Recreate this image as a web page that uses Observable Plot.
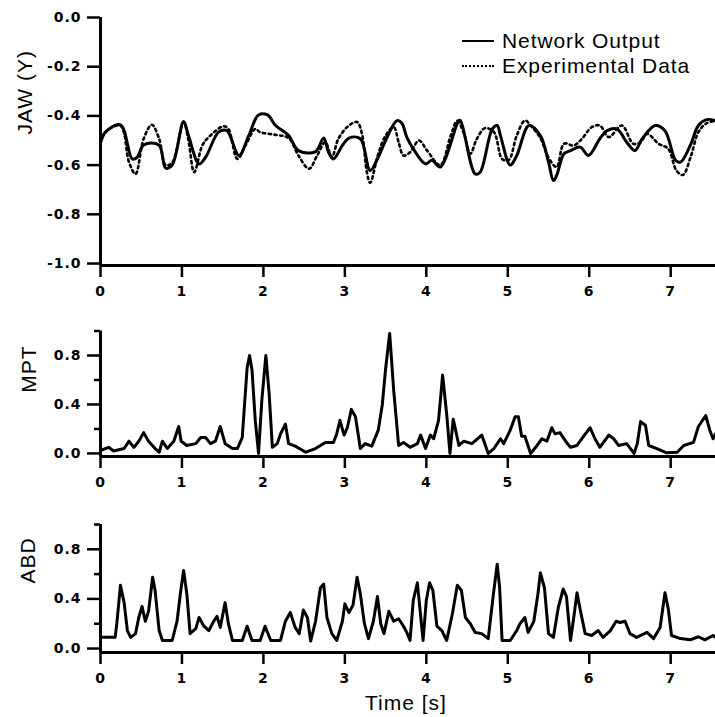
<!DOCTYPE html>
<html>
<head>
<meta charset="utf-8">
<script src="https://cdn.jsdelivr.net/npm/d3@7"></script>
<script src="https://cdn.jsdelivr.net/npm/@observablehq/plot@0.6"></script>
<style>
  body { margin: 0; background: #fff; }
  #wrap { position: relative; width: 715px; height: 717px; overflow: hidden; background: #fff; }
  #wrap > svg { position: absolute; left: 0; }
  .leg { position: absolute; font-family: 'Liberation Sans', Arial, sans-serif; font-size: 21px; letter-spacing: 0.9px; color: #000; white-space: nowrap; }
  .leg .row { position: absolute; left: 0; height: 24px; }
  .leg .sw { position: absolute; left: 0; width: 32px; top: 11px; }
  .leg .txt { position: absolute; left: 40px; top: 0; line-height: 24px; }
</style>
</head>
<body>
<div id="wrap"></div>
<script>
// ---------- data ----------
const timeTicks = [0, 1, 2, 3, 4, 5, 6, 7];
const jawTicks = [0, -0.2, -0.4, -0.6, -0.8, -1.0];
const actTicks = [0, 0.4, 0.8];
const actMinorTicks = [0.2, 0.6, 1.0];
const seriesNames = ["Network Output", "Experimental Data"];
const panelLabels = ["JAW (Y)", "MPT", "ABD"];
const xTitle = "Time [s]";

// JAW (Y): network output [time s, value]
const jawNetwork = [
  [0,-0.51],[0.06,-0.466],[0.245,-0.436],[0.39,-0.575],[0.45,-0.568],[0.53,-0.518],[0.716,-0.518],
  [0.80,-0.612],[0.88,-0.60],[1.02,-0.423],[1.08,-0.48],[1.21,-0.595],[1.29,-0.568],[1.45,-0.466],
  [1.55,-0.46],[1.70,-0.561],[1.82,-0.48],[1.94,-0.396],[2.05,-0.396],[2.15,-0.439],[2.31,-0.48],
  [2.43,-0.541],[2.64,-0.545],[2.74,-0.49],[2.80,-0.548],[2.86,-0.575],[2.97,-0.52],[3.05,-0.49],
  [3.19,-0.493],[3.31,-0.622],[3.41,-0.568],[3.50,-0.50],[3.64,-0.419],[3.70,-0.43],[3.76,-0.486],
  [3.84,-0.534],[3.99,-0.595],[4.07,-0.58],[4.17,-0.608],[4.40,-0.419],[4.42,-0.419],[4.60,-0.636],
  [4.66,-0.629],[4.81,-0.453],[4.87,-0.439],[4.91,-0.48],[5.03,-0.60],[5.11,-0.561],[5.26,-0.439],
  [5.40,-0.48],[5.50,-0.588],[5.56,-0.663],[5.60,-0.642],[5.69,-0.554],[5.77,-0.541],[5.89,-0.527],
  [5.99,-0.561],[6.13,-0.493],[6.22,-0.46],[6.34,-0.453],[6.46,-0.507],[6.56,-0.541],[6.65,-0.493],
  [6.81,-0.439],[6.93,-0.46],[7.06,-0.58],[7.12,-0.588],[7.24,-0.52],[7.34,-0.439],[7.44,-0.415],[7.55,-0.419]
];
// JAW (Y): experimental data [time s, value]
const jawExperimental = [
  [0,-0.51],[0.06,-0.466],[0.245,-0.44],[0.35,-0.588],[0.43,-0.636],[0.53,-0.493],[0.63,-0.436],
  [0.72,-0.493],[0.80,-0.60],[0.88,-0.59],[1.02,-0.425],[1.08,-0.50],[1.15,-0.629],[1.25,-0.52],
  [1.33,-0.486],[1.51,-0.442],[1.57,-0.453],[1.68,-0.575],[1.78,-0.52],[1.90,-0.453],[1.96,-0.466],
  [2.15,-0.477],[2.31,-0.49],[2.43,-0.561],[2.56,-0.615],[2.66,-0.561],[2.76,-0.507],[2.84,-0.568],
  [2.92,-0.493],[3.05,-0.439],[3.15,-0.425],[3.21,-0.473],[3.27,-0.629],[3.31,-0.672],[3.41,-0.554],
  [3.50,-0.48],[3.60,-0.446],[3.66,-0.507],[3.72,-0.561],[3.80,-0.548],[3.91,-0.50],[4.01,-0.541],
  [4.17,-0.60],[4.30,-0.48],[4.38,-0.42],[4.46,-0.47],[4.54,-0.554],[4.62,-0.493],[4.72,-0.45],
  [4.83,-0.466],[4.93,-0.575],[5.01,-0.58],[5.11,-0.48],[5.21,-0.419],[5.30,-0.446],[5.40,-0.49],
  [5.50,-0.57],[5.60,-0.608],[5.69,-0.513],[5.81,-0.52],[5.91,-0.493],[6.03,-0.446],[6.13,-0.439],
  [6.24,-0.486],[6.40,-0.439],[6.54,-0.513],[6.63,-0.507],[6.71,-0.473],[6.85,-0.513],[6.97,-0.534],
  [7.07,-0.622],[7.15,-0.64],[7.25,-0.561],[7.34,-0.466],[7.44,-0.43],[7.55,-0.42]
];
// MPT [time s, value]
const mpt = [
  [0,0.024],[0.10,0.05],[0.16,0.02],[0.29,0.04],[0.35,0.10],[0.41,0.05],[0.47,0.10],[0.53,0.17],[0.59,0.10],[0.67,0.04],
  [0.72,0.01],[0.76,0.10],[0.82,0.04],[0.90,0.10],[0.96,0.22],[0.99,0.10],[1.06,0.065],[1.17,0.08],[1.23,0.13],[1.29,0.13],
  [1.35,0.08],[1.41,0.10],[1.47,0.22],[1.53,0.08],[1.62,0.04],[1.68,0.04],[1.74,0.13],[1.80,0.70],[1.83,0.80],[1.86,0.68],
  [1.90,0.27],[1.94,0.0],[1.98,0.43],[2.03,0.80],[2.07,0.49],[2.11,0.05],[2.17,0.08],[2.21,0.16],[2.27,0.24],[2.31,0.08],
  [2.39,0.06],[2.52,0.01],[2.64,0.04],[2.76,0.09],[2.86,0.09],[2.90,0.16],[2.94,0.27],[2.99,0.15],[3.03,0.21],[3.08,0.36],
  [3.13,0.30],[3.19,0.04],[3.25,0.08],[3.33,0.06],[3.41,0.19],[3.46,0.40],[3.50,0.69],[3.55,0.98],[3.60,0.51],[3.66,0.065],
  [3.72,0.09],[3.80,0.05],[3.89,0.08],[3.93,0.15],[3.99,0.04],[4.05,0.15],[4.09,0.12],[4.15,0.27],[4.20,0.64],[4.25,0.32],
  [4.29,0.0],[4.33,0.28],[4.40,0.065],[4.46,0.10],[4.56,0.08],[4.68,0.15],[4.76,0.0],[4.83,0.04],[4.91,0.12],[4.95,0.08],
  [5.03,0.19],[5.09,0.30],[5.13,0.30],[5.17,0.14],[5.21,0.14],[5.28,0.0],[5.36,0.065],[5.42,0.12],[5.48,0.10],[5.54,0.21],
  [5.58,0.16],[5.64,0.17],[5.71,0.10],[5.77,0.05],[5.85,0.065],[5.93,0.14],[6.01,0.21],[6.07,0.12],[6.13,0.05],[6.24,0.15],
  [6.30,0.12],[6.36,0.065],[6.46,0.08],[6.55,0.0],[6.59,0.08],[6.63,0.26],[6.69,0.23],[6.73,0.065],[6.83,0.04],[6.95,0.005],
  [7.08,0.01],[7.16,0.065],[7.28,0.09],[7.34,0.22],[7.43,0.31],[7.48,0.19],[7.52,0.12],[7.55,0.16]
];
// ABD [time s, value]
const abd = [
  [0,0.09],[0.18,0.09],[0.20,0.20],[0.245,0.51],[0.29,0.37],[0.33,0.145],[0.37,0.09],[0.43,0.12],[0.47,0.25],[0.51,0.34],
  [0.55,0.22],[0.59,0.30],[0.64,0.575],[0.67,0.47],[0.72,0.145],[0.76,0.065],[0.88,0.065],[0.94,0.22],[0.98,0.44],[1.02,0.63],
  [1.06,0.44],[1.10,0.12],[1.17,0.16],[1.21,0.25],[1.27,0.18],[1.33,0.145],[1.39,0.22],[1.43,0.26],[1.47,0.17],[1.53,0.37],
  [1.57,0.20],[1.62,0.065],[1.74,0.065],[1.80,0.18],[1.86,0.065],[1.96,0.065],[2.02,0.18],[2.09,0.065],[2.21,0.065],[2.27,0.22],
  [2.33,0.29],[2.39,0.17],[2.44,0.12],[2.49,0.31],[2.54,0.25],[2.58,0.06],[2.64,0.22],[2.70,0.49],[2.74,0.52],[2.78,0.25],
  [2.84,0.12],[2.90,0.065],[2.97,0.22],[3.00,0.36],[3.05,0.29],[3.10,0.35],[3.15,0.575],[3.19,0.44],[3.24,0.20],[3.29,0.08],
  [3.35,0.22],[3.40,0.42],[3.44,0.20],[3.48,0.12],[3.54,0.30],[3.60,0.22],[3.66,0.24],[3.72,0.18],[3.76,0.13],[3.80,0.065],
  [3.84,0.39],[3.89,0.53],[3.92,0.33],[3.96,0.065],[4.00,0.39],[4.04,0.53],[4.08,0.47],[4.13,0.18],[4.19,0.145],[4.25,0.065],
  [4.32,0.28],[4.38,0.51],[4.43,0.47],[4.48,0.25],[4.54,0.20],[4.60,0.13],[4.68,0.12],[4.76,0.08],[4.82,0.42],[4.87,0.68],
  [4.90,0.49],[4.93,0.065],[5.03,0.065],[5.11,0.145],[5.15,0.20],[5.21,0.25],[5.25,0.13],[5.32,0.22],[5.37,0.44],[5.40,0.61],
  [5.45,0.49],[5.50,0.12],[5.56,0.09],[5.62,0.33],[5.68,0.48],[5.72,0.42],[5.77,0.065],[5.81,0.25],[5.85,0.45],[5.89,0.31],
  [5.95,0.12],[6.03,0.105],[6.11,0.145],[6.17,0.09],[6.26,0.145],[6.33,0.22],[6.38,0.21],[6.44,0.22],[6.50,0.12],[6.58,0.09],
  [6.71,0.13],[6.79,0.08],[6.87,0.17],[6.93,0.45],[6.97,0.32],[7.01,0.105],[7.12,0.08],[7.24,0.07],[7.34,0.095],[7.42,0.07],
  [7.52,0.105],[7.55,0.09]
];

// ---------- drawing ----------
const W = 715;
const xDomain = [0, 7.55];
const tickFont = "'DejaVu Sans', sans-serif";
const labelFont = "'Liberation Sans', Arial, sans-serif";
const toObj = arr => arr.map(([t, v]) => ({t, v}));
const wrap = document.getElementById("wrap");

function axesFor(yDom, yTop, major, minor, fmt) {
  const m = [
    Plot.axisX(timeTicks, {anchor: "bottom", tickSize: 12, tickPadding: 9, strokeWidth: 2.5,
      tickFormat: d => String(d), label: null, fontSize: 14, fontWeight: "bold", fontFamily: tickFont}),
    Plot.axisY(major, {anchor: "left", tickSize: 13, tickPadding: 6, strokeWidth: 2.5,
      tickFormat: fmt, label: null, fontSize: 14, fontWeight: "bold", fontFamily: tickFont}),
    Plot.ruleX([{x: 0, y1: yDom[0], y2: yTop}], {x: "x", y1: "y1", y2: "y2", strokeWidth: 3}),
    Plot.ruleY([yDom[0]], {strokeWidth: 3})
  ];
  if (minor) m.push(Plot.axisY(minor, {anchor: "left", tickSize: 6, strokeWidth: 2.5, tickFormat: () => "", label: null}));
  return m;
}

function yTitle(label, dx, dy) {
  return Plot.text([label], {text: d => d, frameAnchor: "left", rotate: -90, dx, dy,
    lineAnchor: "middle", fontSize: 21, fontFamily: labelFont});
}

function place(svg, top) {
  svg.style.top = top + "px";
  d3.select(svg).selectAll("text").style("letter-spacing", "1px");
  wrap.appendChild(svg);
}

// Panel 1: JAW
const jawDom = [-1.008, 0];
const p1 = Plot.plot({
  width: W, height: 305, marginLeft: 100, marginRight: 0, marginTop: 17, marginBottom: 40,
  x: {domain: xDomain, label: null}, y: {domain: jawDom, label: null},
  style: {background: "white", color: "black", overflow: "visible"},
  marks: [
    ...axesFor(jawDom, 0, jawTicks, null, d => d.toFixed(1)),
    Plot.line(toObj(jawExperimental), {x: "t", y: "v", curve: "catmull-rom", strokeWidth: 2.6, strokeDasharray: "2.4,3.4"}),
    Plot.line(toObj(jawNetwork), {x: "t", y: "v", curve: "catmull-rom", strokeWidth: 3}),
    yTitle(panelLabels[0], -75, -7)
  ]
});
place(p1, 0);

// Panel 2: MPT
const mptDom = [-0.025, 1.0];
const p2 = Plot.plot({
  width: W, height: 195, marginLeft: 100, marginRight: 0, marginTop: 25.5, marginBottom: 44,
  x: {domain: xDomain, label: null}, y: {domain: mptDom, label: null},
  style: {background: "white", color: "black", overflow: "visible"},
  marks: [
    ...axesFor(mptDom, 1.0, actTicks, actMinorTicks, d => d.toFixed(1)),
    Plot.line(toObj(mpt), {x: "t", y: "v", strokeWidth: 3}),
    yTitle(panelLabels[1], -71, -1)
  ]
});
place(p2, 305);

// Panel 3: ABD
const abdDom = [-0.032, 1.0];
const p3 = Plot.plot({
  width: W, height: 217, marginLeft: 100, marginRight: 0, marginTop: 24, marginBottom: 65,
  x: {domain: xDomain, label: null}, y: {domain: abdDom, label: null},
  style: {background: "white", color: "black", overflow: "visible"},
  marks: [
    ...axesFor(abdDom, 1.0, actTicks, actMinorTicks, d => d.toFixed(1)),
    Plot.line(toObj(abd), {x: "t", y: "v", strokeWidth: 3}),
    yTitle(panelLabels[2], -72, -5),
    Plot.text([xTitle], {text: d => d, frameAnchor: "bottom", lineAnchor: "middle", dx: -2, dy: 51, fontSize: 21, fontFamily: labelFont})
  ]
});
place(p3, 500);

// Legend
const leg = document.createElement("div");
leg.className = "leg";
leg.style.left = "462px";
leg.style.top = "29px";
const swatchStyles = ["2px solid #000", "2px dotted #000"];
seriesNames.forEach((name, i) => {
  const row = document.createElement("div");
  row.className = "row";
  row.style.top = (i * 25) + "px";
  const sw = document.createElement("div");
  sw.className = "sw";
  sw.style.borderTop = swatchStyles[i];
  const tx = document.createElement("div");
  tx.className = "txt";
  tx.textContent = name;
  row.appendChild(sw); row.appendChild(tx);
  leg.appendChild(row);
});
wrap.appendChild(leg);
</script>
</body>
</html>
